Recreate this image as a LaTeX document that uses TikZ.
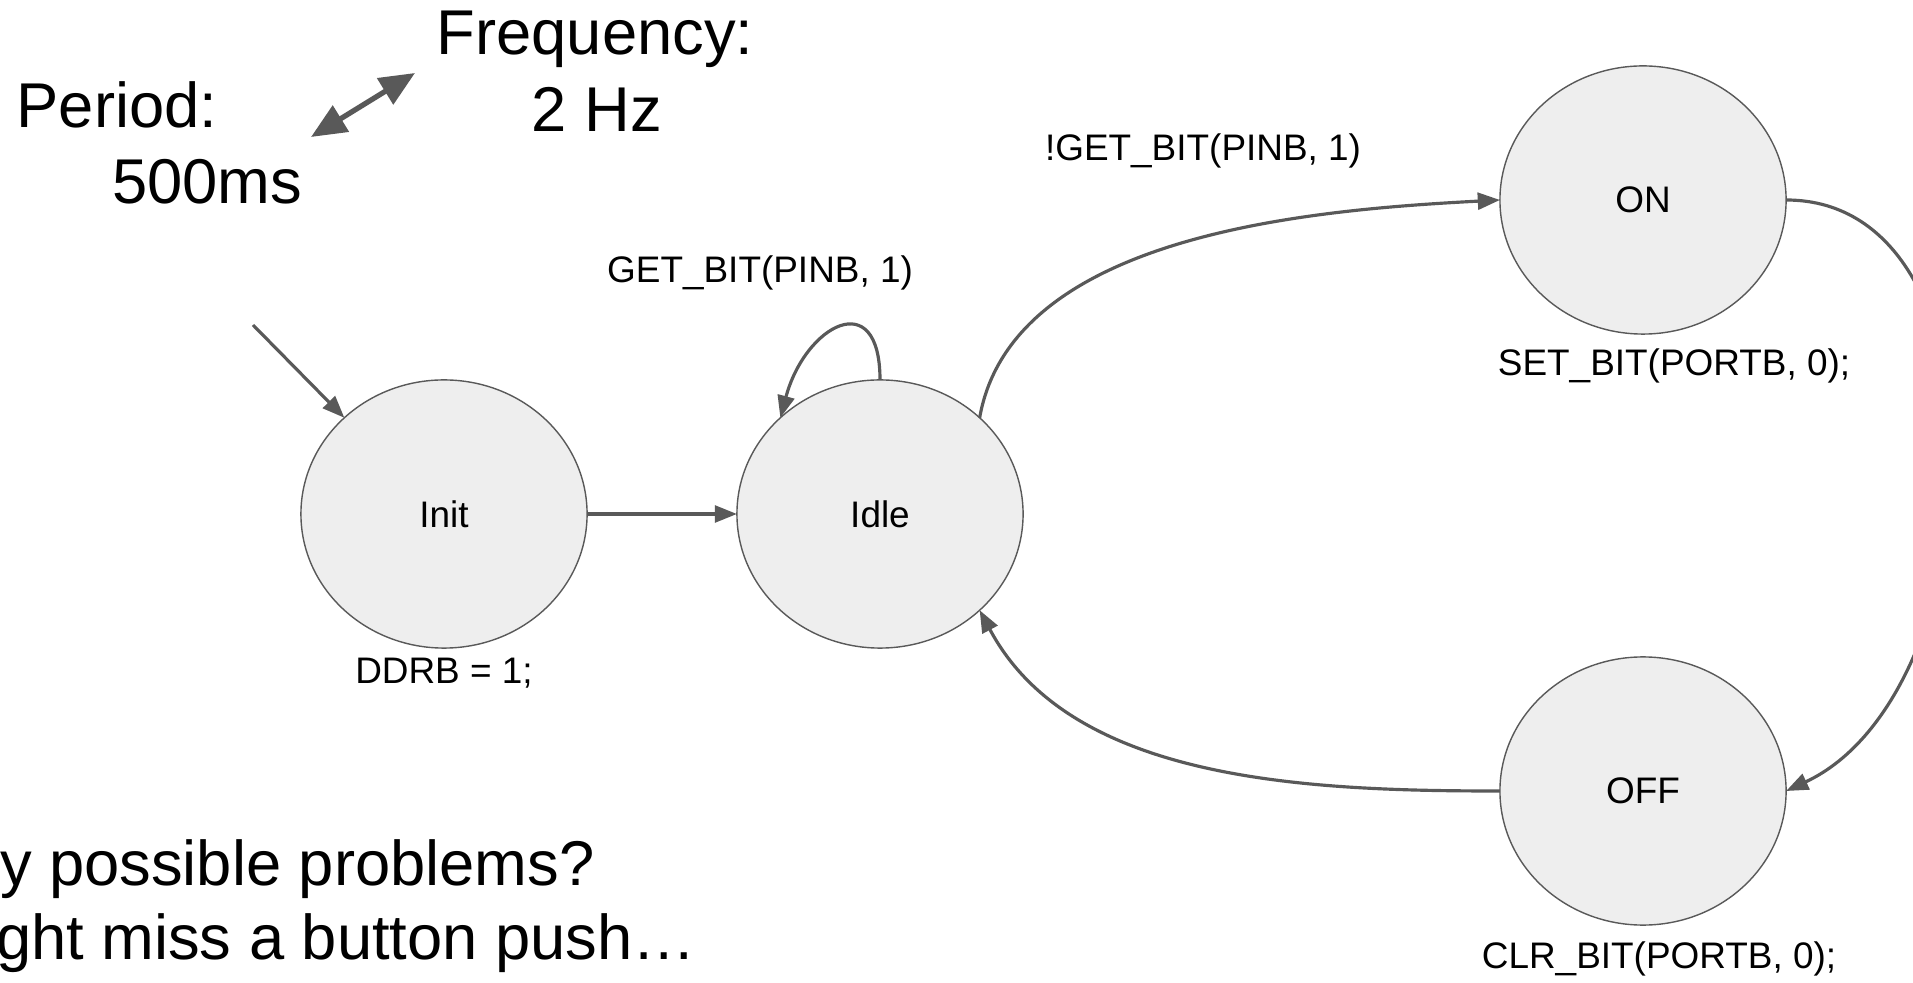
\documentclass[tikz,border=0pt]{standalone}
\usepackage{fontspec}
\setmainfont{Liberation Sans}
\usetikzlibrary{arrows.meta, shapes.geometric}

\definecolor{edgegray}{HTML}{595959}
\definecolor{fillgray}{HTML}{EEEEEE}

\begin{document}
\begin{tikzpicture}[x=0.01cm, y=-0.01cm]
\tikzset{ >={Triangle[length=6.3pt, width=4.8pt]}, inner sep=0pt, outer sep=0pt,
  state/.style={ellipse, draw=edgegray, fill=fillgray, line width=0.4pt,
    minimum width=2.86cm, minimum height=2.68cm, font=\fontsize{10.5}{12.6}\selectfont},
  small/.style={font=\fontsize{10.5}{12.6}\selectfont},
  big/.style={font=\fontsize{18}{21.6}\selectfont},
  trans/.style={->, draw=edgegray, line width=0.9pt},
}

\useasboundingbox (0,0) rectangle (1913,983);

%\draw [lightgray, dashed](0,0) grid[step=100] (1913,983);

% estados
\node [state] (init) at (444,514) {Init};
\node [state] (idle) at (880,514) {Idle};
\node [state] (on)   at (1643,200) {ON};
\node [state] (off)  at (1643,791) {OFF};

% acoes
\node [small] (initact) at (444,673) {DDRB = 1;};
\node [small] (onact)   at (1674,366) {SET\_BIT(PORTB, 0);};
\node [small] (offact)  at (1659,959) {CLR\_BIT(PORTB, 0);};

% condicoes
\node [small] (looplbl) at (760,273) {GET\_BIT(PINB, 1)};
\node [small] (onlbl)   at (1203,151) {!GET\_BIT(PINB, 1)};

% transicoes
\coordinate (start) at (253,325);
\draw [trans] (start) -- (init.136);
\draw [trans] (init.east) -- (idle.west);
\draw [trans] (idle.90) to[out=90, in=75, looseness=2.3] (idle.136);
\draw [trans] (idle.44) to[out=80, in=183, looseness=0.85] (on.west);
\draw [trans] (on.east) to[out=0, in=25, looseness=1.0] (off.east);
\draw [trans] (off.west) to[out=180, in=-62, looseness=0.9] (idle.-44);

% periodo / frequencia
\node [big, anchor=base] (period)    at (117,128) {Period:};
\node [big, anchor=base] (periodval) at (207,204) {500ms};
\node [big, anchor=base] (freq)      at (595,55) {Frequency:};
\node [big, anchor=base] (freqval)   at (597,132) {2 Hz};
\coordinate (pa) at (311,137);
\coordinate (pb) at (415,73);
\draw [{Triangle[length=10pt, width=8.5pt]}-{Triangle[length=10pt, width=8.5pt]}, edgegray, line width=1.5pt] (pa) -- (pb);

% problemas
\node [big, anchor=base west] (probq) at (0,885) {y possible problems?};
\node [big, anchor=base west] (proba) at (-4,959) {ght miss a button push…};

\end{tikzpicture}
\end{document}
